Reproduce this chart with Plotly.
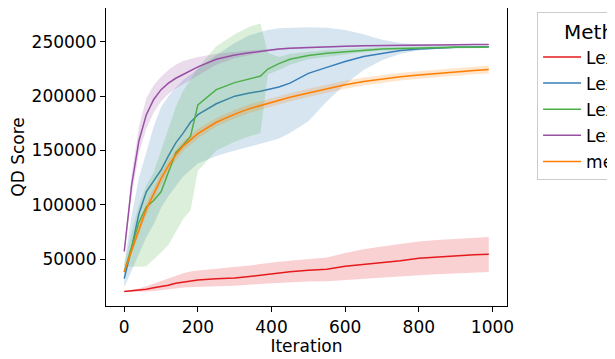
import plotly.graph_objects as go

iteration = [0, 20, 40, 60, 80, 100, 120, 140, 160, 180, 200, 250, 300, 340, 370, 390,
             420, 450, 500, 550, 600, 650, 700, 750, 800, 850, 900, 950, 990]

methods = ["Lexicase", "Lex-DS", "Lex-ES", "Lex-EQ", "me-es"]
colors = ["#e41a1c", "#377eb8", "#4daf4a", "#984ea3", "#ff7f00"]
fills = ["rgba(228,26,28,0.2)", "rgba(55,126,184,0.2)", "rgba(77,175,74,0.2)",
         "rgba(152,78,163,0.2)", "rgba(255,127,0,0.2)"]

red_mean = [20100, 20700, 21300, 22300, 23500, 24500, 26000, 27800, 29000, 30000, 30800, 31800, 32500, 34000, 35200, 36200,
            37000, 38300, 39800, 40600, 43500, 45000, 46500, 48500, 50800, 52000, 53200, 54000, 54500]
red_hi = [20600, 21500, 23000, 25000, 27500, 30000, 32500, 35000, 37000, 38500, 39500, 41000, 42300, 44000, 45500, 46500,
          47500, 48500, 50000, 51500, 55500, 59000, 61500, 63500, 66200, 67500, 68500, 69500, 70300]
red_lo = [19600, 19700, 19900, 20200, 20600, 21000, 22000, 23000, 23800, 24300, 24500, 25000, 25500, 26300, 27000, 27500,
          28000, 28800, 29300, 29500, 30900, 32000, 33000, 34000, 35000, 36000, 37000, 37500, 38000]

blue_mean = [32000, 60000, 92000, 112000, 122000, 132000, 145000, 157000, 166000, 176000, 183000, 193000, 200000, 203000, 204500, 206000,
             208500, 212000, 221000, 226500, 232000, 236500, 239500, 242000, 243500, 244500, 245000, 245300, 245600]
blue_hi = [45000, 90000, 125000, 148000, 172000, 190000, 200000, 208000, 215000, 220000, 225000, 238000, 249000, 256000, 259000, 261000,
           262500, 263000, 263500, 263000, 261000, 257000, 252000, 249000, 247500, 246800, 246500, 246300, 246200]
blue_lo = [24000, 40000, 55000, 70000, 82000, 97000, 108000, 117000, 126000, 132000, 138000, 145000, 150000, 153500, 156000, 158000,
           161000, 166000, 177000, 195000, 211000, 224000, 233000, 239000, 242000, 243500, 244300, 244800, 245000]

green_mean = [38000, 60000, 84000, 98000, 104000, 112000, 130000, 148000, 155000, 163000, 192000, 206000, 212500, 216000, 218500, 225000,
              230000, 234000, 237500, 239500, 241000, 242500, 243500, 244000, 244500, 244800, 245000, 245100, 245200]
green_hi = [45000, 75000, 100000, 118000, 130000, 150000, 172000, 190000, 205000, 216000, 226000, 246000, 257000, 264000, 267000, 240000,
            236000, 239000, 241000, 242500, 243500, 244500, 245000, 245500, 246000, 246000, 246200, 246300, 246300]
green_lo = [43000, 43000, 43000, 43500, 50000, 56000, 63000, 75000, 87000, 95000, 131000, 150000, 158000, 163000, 166000, 220000,
            224000, 229000, 234000, 236500, 238500, 240500, 242000, 242800, 243300, 243700, 244000, 244200, 244300]

purple_mean = [57000, 118000, 159000, 183000, 197000, 206000, 212000, 216500, 220000, 223500, 227000, 234000, 238000, 240000, 241500, 242500,
               243500, 244200, 245000, 245500, 246000, 246500, 246800, 247000, 247200, 247300, 247400, 247500, 247500]
purple_hi = [60000, 128000, 172000, 198000, 210000, 218000, 224000, 229000, 232500, 234500, 236000, 239000, 241000, 242000, 242800, 243500,
             244400, 245000, 245700, 246100, 246600, 247100, 247400, 247600, 247800, 247900, 248000, 248100, 248100]
purple_lo = [54000, 108000, 148000, 170000, 185000, 195000, 202000, 207000, 211000, 215000, 219000, 229000, 235000, 238000, 240000, 241300,
             242500, 243400, 244300, 244900, 245400, 245900, 246200, 246400, 246600, 246700, 246800, 246900, 246900]

orange_mean = [38600, 58000, 78000, 96000, 110000, 124000, 136000, 146000, 154000, 160000, 165500, 176000, 183500, 188500, 191500, 193500,
               196000, 199000, 203000, 207000, 210500, 213500, 216000, 218000, 219500, 221000, 222500, 223700, 224500]
orange_hi = [40100, 62000, 83000, 101500, 115500, 129500, 141000, 151000, 158500, 164500, 170000, 180000, 187500, 192500, 195500, 197500,
             200000, 202800, 206800, 210800, 214200, 217100, 219500, 221500, 223000, 224500, 226000, 227200, 228000]
orange_lo = [37100, 54000, 73000, 90500, 104500, 118500, 131000, 141000, 149500, 155500, 161000, 172000, 179500, 184500, 187500, 189500,
             192000, 195200, 199200, 203200, 206800, 209900, 212500, 214500, 216000, 217500, 219000, 220200, 221000]

means = [red_mean, blue_mean, green_mean, purple_mean, orange_mean]
highs = [red_hi, blue_hi, green_hi, purple_hi, orange_hi]
lows = [red_lo, blue_lo, green_lo, purple_lo, orange_lo]

fig = go.Figure()
for name, c, fc, m, hi, lo in zip(methods, colors, fills, means, highs, lows):
    fig.add_trace(go.Scatter(x=iteration + iteration[::-1], y=hi + lo[::-1], fill="toself",
                             fillcolor=fc, line=dict(width=0), mode="lines",
                             legendgroup=name, showlegend=False, hoverinfo="skip"))
    fig.add_trace(go.Scatter(x=iteration, y=m, mode="lines", name=name, legendgroup=name,
                             line=dict(color=c, width=1.5)))

axis_style = dict(showgrid=False, zeroline=False, showline=True, linecolor="black", linewidth=1.2,
                  mirror=True, ticks="outside", ticklen=5, tickcolor="black", tickwidth=1.2,
                  tickfont=dict(size=17, color="black"))

# page body has an 8px margin, so the figure is a bit smaller than the window
fig.update_layout(
    width=607, height=351,
    margin=dict(l=98, r=108, t=0, b=53, autoexpand=False),
    plot_bgcolor="white", paper_bgcolor="white",
    font=dict(family="DejaVu Sans", size=17, color="black"),
    xaxis=dict(range=[-49.5, 1039.5], tickvals=[0, 200, 400, 600, 800, 1000],
               title=dict(text="Iteration", font=dict(size=17), standoff=2), **axis_style),
    yaxis=dict(range=[6800, 281200], tickvals=[50000, 100000, 150000, 200000, 250000],
               tickformat="d",
               title=dict(text="QD Score", font=dict(size=17), standoff=8), **axis_style),
    legend=dict(x=1.075, y=0.985, xanchor="left", yanchor="top",
                title=dict(text="Method", side="top center"),
                bgcolor="rgba(255,255,255,0.8)", bordercolor="#cccccc", borderwidth=1,
                tracegroupgap=1, font=dict(size=17), itemwidth=38),
)

fig.write_html("out.html")
